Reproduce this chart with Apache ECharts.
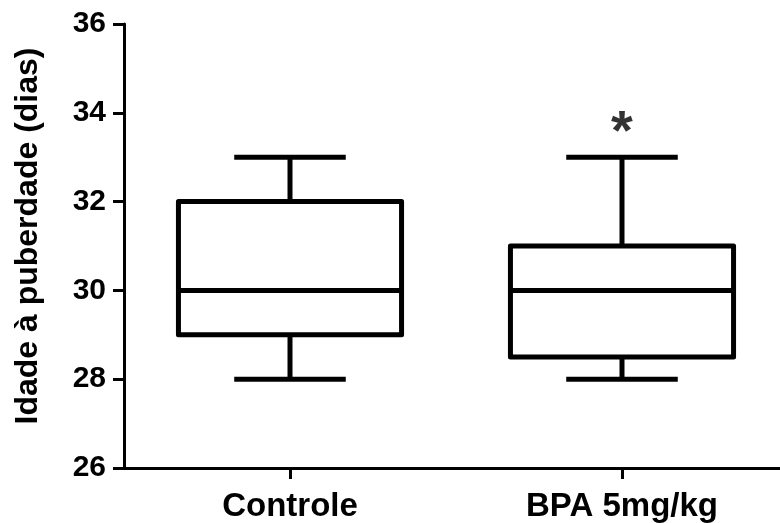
<!DOCTYPE html>
<html>
<head>
<meta charset="utf-8">
<style>
  html, body { margin: 0; padding: 0; background: #fff; overflow: hidden; }
  #chart { width: 790px; height: 523px; }
</style>
<script src="https://cdn.jsdelivr.net/npm/echarts@6/dist/echarts.min.js"></script>
</head>
<body>
<div id="chart"></div>
<script>
// Groups and their five-number summaries: [min, Q1, median, Q3, max]
const categories = ['Controle', 'BPA 5mg/kg'];
const controleBox = [28, 29, 30, 32, 33];
const bpaBox = [28, 28.5, 30, 31, 33];
const yTicks = [26, 28, 30, 32, 34, 36];
// significance marker drawn above the BPA group
const markerGroup = 'BPA 5mg/kg';
const markerValue = 34;

const FONT = '"Liberation Sans", Arial, Helvetica, sans-serif';
const BOX_FRACTION = 0.672;   // box width as a share of the category band
const CAP_FRACTION = 0.5;     // whisker cap width as a share of the box width

const boxRows = [controleBox, bpaBox].map((b, i) => [i].concat(b));

function renderBox(params, api) {
  const idx = api.value(0);
  const band = api.size([1, 0])[0];
  const boxW = band * BOX_FRACTION;
  const capW = boxW * CAP_FRACTION;
  const pMin = api.coord([idx, api.value(1)]);
  const pQ1 = api.coord([idx, api.value(2)]);
  const pMed = api.coord([idx, api.value(3)]);
  const pQ3 = api.coord([idx, api.value(4)]);
  const pMax = api.coord([idx, api.value(5)]);
  const cx = pMed[0];
  const stroke = { stroke: '#000', lineWidth: 5, fill: null };
  const line = (x1, y1, x2, y2) => ({
    type: 'line',
    shape: { x1, y1, x2, y2 },
    style: Object.assign({}, stroke)
  });
  return {
    type: 'group',
    children: [
      line(cx, pMin[1], cx, pQ1[1]),
      line(cx, pQ3[1], cx, pMax[1]),
      line(cx - capW / 2, pMin[1], cx + capW / 2, pMin[1]),
      line(cx - capW / 2, pMax[1], cx + capW / 2, pMax[1]),
      {
        type: 'rect',
        shape: { x: cx - boxW / 2, y: pQ3[1], width: boxW, height: pQ1[1] - pQ3[1] },
        style: { stroke: '#000', lineWidth: 5, fill: '#fff', lineJoin: 'round' }
      },
      line(cx - boxW / 2, pMed[1], cx + boxW / 2, pMed[1])
    ]
  };
}

const chart = echarts.init(document.getElementById('chart'), null, { renderer: 'canvas' });

chart.setOption({
  backgroundColor: '#ffffff',
  animation: false,
  grid: { left: 124, right: 2, top: 24, bottom: 55, containLabel: false },
  xAxis: {
    type: 'category',
    data: categories,
    boundaryGap: true,
    axisLine: { show: true, lineStyle: { color: '#000', width: 3 } },
    axisTick: { show: true, alignWithLabel: true, length: 11, lineStyle: { color: '#000', width: 3 } },
    axisLabel: { color: '#000', fontFamily: FONT, fontWeight: 'bold', fontSize: 33, margin: 22 },
    splitLine: { show: false }
  },
  yAxis: {
    type: 'value',
    min: yTicks[0],
    max: yTicks[yTicks.length - 1],
    interval: 2,
    name: 'Idade à puberdade (dias)',
    nameLocation: 'middle',
    nameGap: 80,
    nameTextStyle: {
      color: '#000', fontFamily: FONT, fontWeight: 'bold', fontSize: 32,
      padding: [0, 0, 0, 20]
    },
    axisLine: { show: true, lineStyle: { color: '#000', width: 3 } },
    axisTick: { show: true, length: 11, lineStyle: { color: '#000', width: 3 } },
    axisLabel: { color: '#000', fontFamily: FONT, fontWeight: 'bold', fontSize: 30, margin: 18 },
    splitLine: { show: false }
  },
  series: [
    {
      type: 'custom',
      data: boxRows,
      renderItem: renderBox,
      encode: { x: 0, y: [1, 2, 3, 4, 5] },
      silent: true,
      z: 3
    },
    {
      type: 'scatter',
      data: [[markerGroup, markerValue]],
      symbolSize: 0,
      silent: true,
      label: {
        show: true,
        position: 'inside',
        formatter: '*',
        color: '#000',
        fontFamily: FONT,
        fontWeight: 'bold',
        fontSize: 56,
        offset: [0, 21]
      },
      z: 4
    }
  ]
});
</script>
</body>
</html>
